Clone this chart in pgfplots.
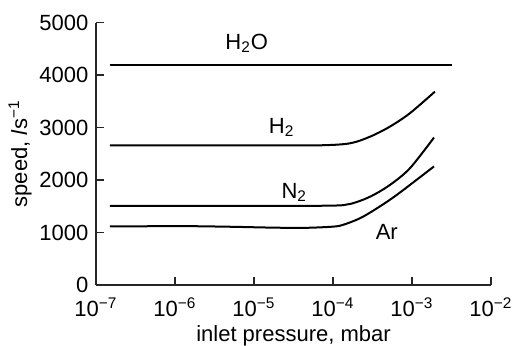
\documentclass[border=0pt]{standalone}
\usepackage{fontspec}
\setmainfont{Liberation Sans}
\usepackage{pgfplots}
\pgfplotsset{compat=1.18}
\begin{document}
\fontsize{11}{13}\selectfont
\begin{tikzpicture}
\begin{axis}[
  scale only axis, width=197.5pt, height=131.2pt,
  xmode=log, xmin=1e-7, xmax=1e-2, ymin=0, ymax=5000,
  axis lines*=left,
  axis line style={-, line width=0.7pt, black!85},
  tick align=inside, major tick length=3.8pt,
  tick style={line width=0.7pt, black!85},
  xminorticks=false,
  xtick={1e-7,1e-6,1e-5,1e-4,1e-3,1e-2},
  xticklabels={10\textsuperscript{−7},10\textsuperscript{−6},10\textsuperscript{−5},10\textsuperscript{−4},10\textsuperscript{−3},10\textsuperscript{−2}},
  xticklabel style={yshift=-2.5pt},
  ytick={0,1000,2000,3000,4000,5000},
  yticklabels={0,1000,2000,3000,4000,5000},
  xlabel={inlet pressure, mbar},
  ylabel={speed, \textit{l}s\textsuperscript{−1}},
  xlabel style={at={(axis description cs:0.5,-0.216)}, anchor=base},
  ylabel style={at={(axis description cs:-0.192,0.5)}, anchor=center, rotate=0},
  clip=false,
]
\addplot[black, line width=1pt] coordinates {(1.5e-7,4200) (3.2e-3,4200)};
\addplot[black, line width=1pt, smooth] coordinates {
  (1.5e-7,2660) (1e-5,2660) (6.8e-5,2662) (1.64e-4,2700) (2.95e-4,2827)
  (5.25e-4,3018) (9.4e-4,3273) (1.95e-3,3685)};
\addplot[black, line width=1pt, smooth] coordinates {
  (1.5e-7,1510) (1e-5,1510) (9.1e-5,1512) (1.64e-4,1544) (2.95e-4,1683)
  (5.25e-4,1906) (9.4e-4,2224) (1.9e-3,2810)};
\addplot[black, line width=1pt, smooth] coordinates {
  (1.5e-7,1115) (1.2e-6,1122) (5e-6,1110) (1.5e-5,1095) (4e-5,1088)
  (9.1e-5,1108) (1.3e-4,1140) (2.19e-4,1271) (3.5e-4,1450) (6.4e-4,1716) (1.9e-3,2260)};
\node at (axis cs:8.1e-6,4600) {H\textsubscript{2}O};
\node at (axis cs:2.24e-5,3004) {H\textsubscript{2}};
\node at (axis cs:3.24e-5,1768) {N\textsubscript{2}};
\node at (axis cs:4.8e-4,1008) {Ar};
\end{axis}
\pgfresetboundingbox
\path[use as bounding box] (-48pt,-30pt) rectangle (209pt,142.5pt);
\end{tikzpicture}
\end{document}
